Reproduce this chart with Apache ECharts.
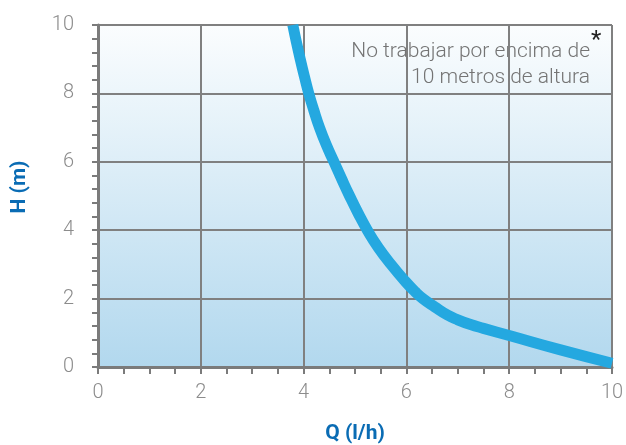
<!DOCTYPE html>
<html><head><meta charset="utf-8">
<script src="https://cdn.jsdelivr.net/npm/echarts@6/dist/echarts.min.js"></script>
<style>html,body{margin:0;padding:0;background:#fff}#c{width:626px;height:445px}</style>
</head><body><div id="c"></div>
<script>
const flowQ = [3.79, 3.86, 3.935, 4.015, 4.10, 4.20, 4.31, 4.44, 4.59, 4.74, 4.895, 5.06, 5.24, 5.45, 5.70, 5.98, 6.17, 6.32, 6.55, 6.8, 7.0, 7.25, 7.5, 8.0, 9.0, 10.0];
const headH = [10, 9.5, 9, 8.5, 8, 7.5, 7, 6.5, 6, 5.5, 5, 4.5, 4, 3.5, 3, 2.5, 2.2, 2.0, 1.76, 1.52, 1.38, 1.24, 1.13, 0.92, 0.5, 0.11];
const xTicks = [0, 2, 4, 6, 8, 10];
const yTicks = [0, 2, 4, 6, 8, 10];
const noteLines = ['No trabajar por encima de', '10 metros de altura'];

const chart = echarts.init(document.getElementById('c'));
const gray = '#7b7b7b';
const lab = {color: '#8c8c8c', fontSize: 20, fontFamily: 'Roboto', fontWeight: 300};
chart.setOption({
  animation: false,
  grid: {left: 98, right: 14, top: 25, bottom: 78, show: true, borderWidth: 0, outerBoundsMode: 'none', containLabel: false,
    backgroundColor: {type: 'linear', x: 0, y: 0, x2: 0, y2: 1,
      colorStops: [{offset: 0, color: '#fbfdfe'}, {offset: 1, color: '#b2d8ee'}]}},
  xAxis: {type: 'value', min: 0, max: 10, interval: 2,
    name: 'Q (l/h)', nameLocation: 'middle', nameGap: 56,
    nameTextStyle: {color: '#0a6cb4', fontSize: 21, fontWeight: 'bold', fontFamily: 'Roboto'},
    axisLine: {show: true, onZero: false, lineStyle: {color: gray, width: 3}},
    axisTick: {show: true, length: 7, lineStyle: {color: gray, width: 2}},
    minorTick: {show: true, splitNumber: 4, length: 7, lineStyle: {color: gray, width: 2}},
    splitLine: {show: true, lineStyle: {color: '#808080', width: 2}},
    axisLabel: Object.assign({margin: 16, formatter: v => xTicks.includes(v) ? String(v) : ''}, lab)},
  yAxis: {type: 'value', min: 0, max: 10, interval: 2,
    name: 'H (m)', nameLocation: 'middle', nameGap: 68, nameRotate: 90,
    nameTextStyle: {color: '#0a6cb4', fontSize: 21, fontWeight: 'bold', fontFamily: 'Roboto', padding: [0, 0, 0, 18]},
    axisLine: {show: true, onZero: false, lineStyle: {color: gray, width: 3}},
    axisTick: {show: true, length: 6, lineStyle: {color: gray, width: 2}},
    minorTick: {show: true, splitNumber: 5, length: 6, lineStyle: {color: gray, width: 2}},
    splitLine: {show: true, lineStyle: {color: '#808080', width: 2}},
    axisLabel: Object.assign({margin: 24, formatter: v => yTicks.includes(v) ? String(v) : ''}, lab)},
  series: [{type: 'line', data: flowQ.map((q, i) => [q, headH[i]]), smooth: 0.5,
    showSymbol: false, symbol: 'none', clip: true,
    lineStyle: {color: '#24a8e0', width: 11, cap: 'butt', join: 'round'}}],
  graphic: [
    {type: 'text', right: 36, top: 41, style: {text: noteLines[0],
      fill: '#747474', fontSize: 21, fontFamily: 'Roboto', fontWeight: 300}},
    {type: 'text', right: 36, top: 67, style: {text: noteLines[1],
      fill: '#747474', fontSize: 21, fontFamily: 'Roboto', fontWeight: 300}},
    {type: 'text', left: 591, top: 29, style: {text: '*', fill: '#222', fontSize: 24, fontFamily: 'Roboto'}}
  ]
});
</script></body></html>
